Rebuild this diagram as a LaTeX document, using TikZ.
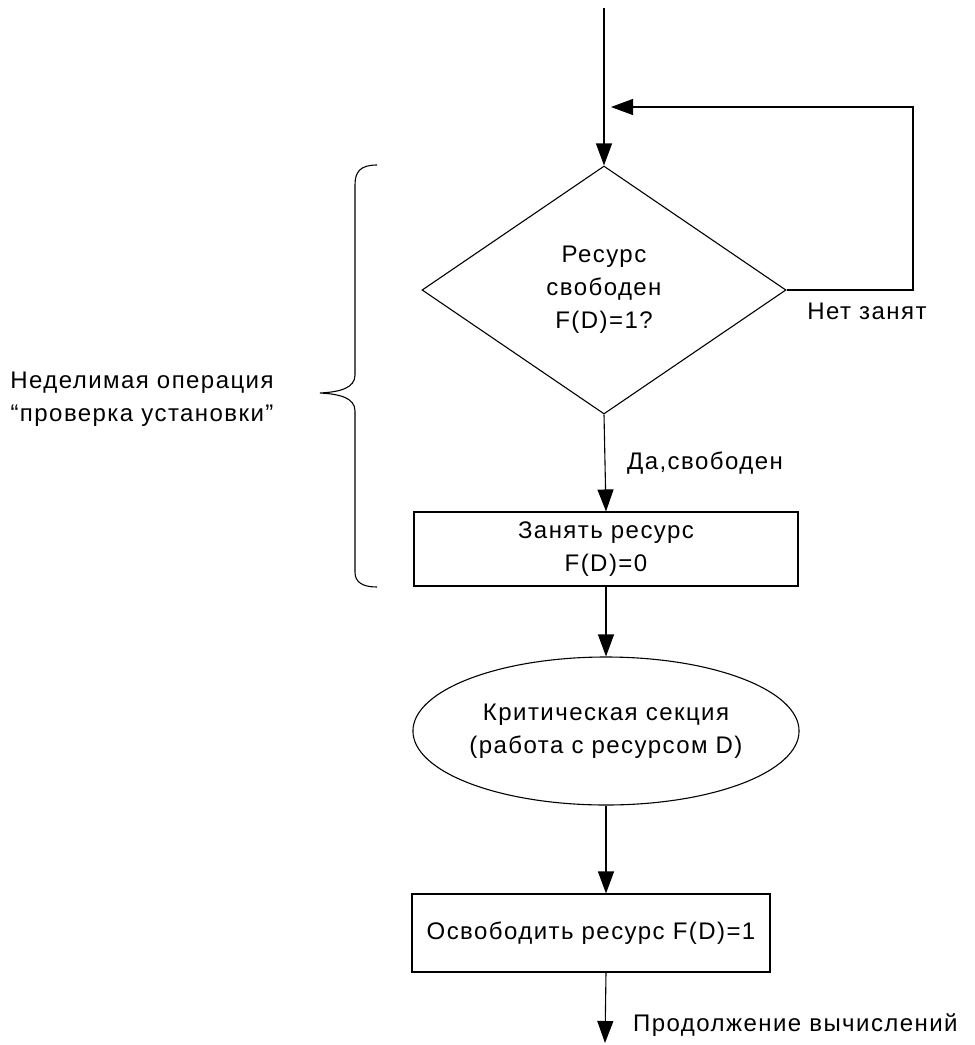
\documentclass[tikz,border=0pt]{standalone}
\usepackage{fontspec}
\setmainfont{Liberation Sans}[LetterSpace=6]
\usetikzlibrary{shapes.geometric,arrows.meta}
\begin{document}
\begin{tikzpicture}[x=0.5pt,y=-0.5pt,
  font=\fontsize{12pt}{16.5pt}\selectfont,
  line width=0.55pt,
  flow/.style={-{Triangle[length=11pt,width=8pt]}},
  box/.style={draw, rectangle, minimum width=192pt, minimum height=37pt,
              align=center, inner sep=0pt},
  decision/.style={draw, diamond, minimum width=182pt, minimum height=124pt,
                   align=center, inner sep=0pt},
  oval/.style={draw, ellipse, minimum width=192pt, minimum height=74pt,
               align=center, inner sep=0pt}]
\useasboundingbox (0,0) rectangle (975,1045);

% flowchart blocks
\node[decision] (dec) at (604,290) {Ресурс\\свободен\\F(D)=1?};
\node[box] (take) at (606,549) {Занять ресурс\\F(D)=0};
\node[oval] (crit) at (606,731) {Критическая секция\\(работа с ресурсом D)};
\node[box, minimum width=179pt, minimum height=39pt] (free) at (591,933)
  {Освободить ресурс F(D)=1};

% free ends of the connectors
\coordinate (in) at (604,8);
\coordinate (corner) at (913,107);
\coordinate (back) at (611,107);
\coordinate (out) at (605,1043);

% connectors
\draw[flow] (in) -- (dec.north);
\draw[flow] (dec.east) -| (corner) -- (back);
\draw[flow] (dec.south) -- (take.north);
\draw[flow] (take.south) -- (crit.north);
\draw[flow] (crit.south) -- (crit.south |- free.north);
\draw[flow] (crit.south |- free.south) -- (out);

% labels
\node (no) at (867,311) {Нет занят};
\node (yes) at (705,463) {Да,свободен};
\node[anchor=west] (cont) at (626,1025) {Продолжение вычислений};
\node[align=center] (atomic) at (142,399) {Неделимая операция\\“проверка установки”};

% brace grouping the test-and-set steps
\draw (377,165) .. controls (360,165) and (355,172) .. (355,185) -- (355,375)
  .. controls (355,388) and (340,392) .. (320,393)
  .. controls (340,394) and (355,398) .. (355,411) -- (355,572)
  .. controls (355,582) and (362,587) .. (377,587);
\end{tikzpicture}
\end{document}
